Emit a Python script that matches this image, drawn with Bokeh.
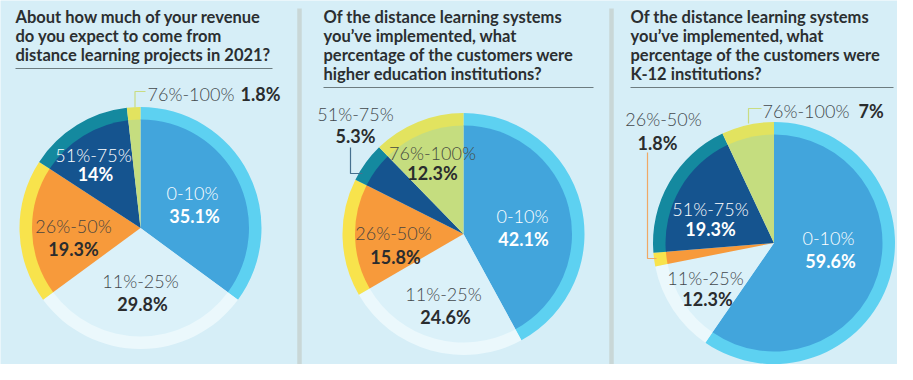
import math
from bokeh.plotting import figure
from bokeh.models import Range1d
from bokeh.core.properties import value
from bokeh.embed import file_html
from bokeh.resources import INLINE

# ---------------- data ----------------
categories = ["0-10%", "11%-25%", "26%-50%", "51%-75%", "76%-100%"]
revenue_2021 = [35.1, 29.8, 19.3, 14.0, 1.8]
higher_ed = [42.1, 24.6, 15.8, 5.3, 12.3]
k12 = [59.6, 12.3, 1.8, 19.3, 7.0]

title_revenue = ["About how much of your revenue", "do you expect to come from",
                 "distance learning projects in 2021?"]
title_higher = ["Of the distance learning systems", "you\u2019ve implemented, what",
                "percentage of the customers were", "higher education institutions?"]
title_k12 = ["Of the distance learning systems", "you\u2019ve implemented, what",
             "percentage of the customers were", "K-12 institutions?"]

# ---------------- style ----------------
BG = "#d6eef7"
pie_colors = ["#42a5dc", "#dbf1f9", "#f79a3b", "#15548f", "#c5dd7f"]
ring_colors = ["#5dd1f1", "#ebf8fc", "#f8e34c", "#14899f", "#e2e35f"]
DARK = "#2a2c2e"
GREY = "#43494d"
WHITE = "#ffffff"
FONT = value("Lato")
LIGHT_FONT = value("Lato Light, Lato")

W, H = 897, 364
OX, OY = 0, 0

p = figure(width=W, height=H, output_backend="svg", toolbar_location=None,
           x_range=Range1d(OX, OX + W), y_range=Range1d(-(OY + H), -OY),
           x_axis_location=None, y_axis_location=None, min_border=0)
p.grid.visible = False
p.outline_line_color = None
p.background_fill_color = BG
p.border_fill_color = BG


def Y(y):
    return -y


R_OUT, R_IN = 121, 108.5


def draw_pie(cx, cy, vals):
    total = sum(vals)
    cum = 0.0
    starts, ends = [], []
    for v in vals:
        a0 = math.pi / 2 - 2 * math.pi * cum / total
        cum += v
        a1 = math.pi / 2 - 2 * math.pi * cum / total
        starts.append(a0)
        ends.append(a1)
    n = len(vals)
    p.annular_wedge(x=[cx] * n, y=[Y(cy)] * n, inner_radius=R_IN - 1, outer_radius=R_OUT,
                    start_angle=starts, end_angle=ends, direction="clock",
                    fill_color=ring_colors, line_color=None)
    p.wedge(x=[cx] * n, y=[Y(cy)] * n, radius=R_IN,
            start_angle=starts, end_angle=ends, direction="clock",
            fill_color=pie_colors, line_color=None)


def draw_title(x, y0, lines, rule_y, rule_x1):
    ys = [Y(y0 + 19 * i) for i in range(len(lines))]
    p.text(x=[x] * len(lines), y=ys, text=lines, text_font=FONT, text_font_style="bold",
           text_font_size="16.5px", text_color="#2b2f31", text_baseline="middle",
           text_align="left")
    p.line(x=[x, rule_x1], y=[Y(rule_y), Y(rule_y)], line_color="#6d7c80", line_width=1)


def draw_labels(vals, cat_pos, val_pos, cat_colors, val_colors, aligns):
    texts = [f"{v:g}%" for v in vals]
    for i in range(len(vals)):
        p.text(x=[cat_pos[i][0]], y=[Y(cat_pos[i][1])], text=[categories[i]],
               text_font=LIGHT_FONT, text_font_size="18px", text_color=cat_colors[i],
               text_baseline="middle", text_align=aligns[i])
        p.text(x=[val_pos[i][0]], y=[Y(val_pos[i][1])], text=[texts[i]],
               text_font=FONT, text_font_style="bold", text_font_size="18px",
               text_color=val_colors[i], text_baseline="middle", text_align=aligns[i])


# dividers
for dx in (299, 611):
    p.line(x=[dx, dx], y=[Y(8), Y(367)], line_color="#c9d7d7", line_width=4.5)

# ---- panel 1 ----
draw_title(15, 16, title_revenue, 68, 272)
draw_pie(140, 227.5, revenue_2021)
draw_labels(revenue_2021,
            [(192, 192), (140, 280), (73, 225), (93, 154), (147, 93)],
            [(194, 215), (142, 303), (73, 248), (95, 173), (240, 93)],
            [WHITE, GREY, "#4a453f", WHITE, GREY],
            [WHITE, DARK, DARK, WHITE, DARK],
            ["center", "center", "center", "center", "left"])
p.line(x=[134.5, 134.5, 145], y=[Y(107), Y(91), Y(91)], line_color="#c9dc82", line_width=1.2)

# ---- panel 2 ----
draw_title(323, 16, title_higher, 87, 593)
draw_pie(463, 233.5, higher_ed)
draw_labels(higher_ed,
            [(522, 215), (443, 293), (393, 232), (355, 113), (432, 152)],
            [(523, 238), (445, 316), (395, 256), (355, 135), (432, 172)],
            [WHITE, GREY, "#4a453f", GREY, "#454a40"],
            [WHITE, DARK, DARK, DARK, DARK],
            ["center"] * 5)
p.line(x=[350, 350, 362], y=[Y(147), Y(173), Y(173)], line_color="#46708f", line_width=1.2)

# ---- panel 3 ----
draw_title(630, 16, title_k12, 87, 893)
draw_pie(773.5, 242.5, k12)
draw_labels(k12,
            [(828, 237), (705, 277), (663, 118), (710, 208), (762, 110)],
            [(830, 260), (707, 298), (657, 142), (710, 228), (858, 110)],
            [WHITE, GREY, GREY, WHITE, GREY],
            [WHITE, DARK, DARK, WHITE, DARK],
            ["center", "center", "center", "center", "left"])
p.line(x=[748, 748, 761], y=[Y(123), Y(108), Y(108)], line_color="#c9dc82", line_width=1.2)
p.line(x=[647, 647, 656], y=[Y(152), Y(258), Y(258)], line_color="#f0a866", line_width=1.2)

open("out.html", "w").write(file_html(p, INLINE))
